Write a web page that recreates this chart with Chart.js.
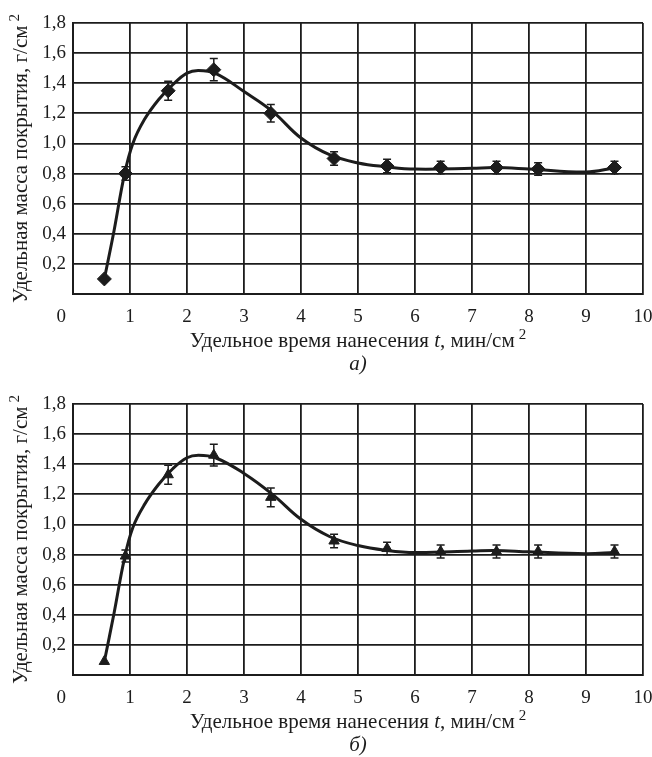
<!DOCTYPE html>
<html>
<head>
<meta charset="utf-8">
<script src="https://cdn.jsdelivr.net/npm/chart.js@4.4.1/dist/chart.umd.min.js"></script>
<style>
  html, body { margin: 0; padding: 0; background: #fff; overflow: hidden; }
  .panel { position: absolute; left: 0; width: 652px; height: 381px; }
</style>
</head>
<body>
<div class="panel" style="top:0"><canvas id="chart_a" width="652" height="381"></canvas></div>
<div class="panel" style="top:381px"><canvas id="chart_b" width="652" height="381"></canvas></div>
<script>
// measured points (same times in both panels)
const time_points = [0.55, 0.92, 1.67, 2.47, 3.47, 4.58, 5.51, 6.45, 7.43, 8.16, 9.50];

const mass_a = [0.10, 0.80, 1.35, 1.49, 1.20, 0.90, 0.85, 0.84, 0.84, 0.83, 0.84];
const error_a = [0, 0.045, 0.063, 0.074, 0.058, 0.045, 0.045, 0.042, 0.042, 0.042, 0.042];

const mass_b = [0.09, 0.79, 1.33, 1.46, 1.18, 0.89, 0.84, 0.82, 0.82, 0.82, 0.82];
const error_b = [0, 0.04, 0.063, 0.072, 0.062, 0.045, 0.042, 0.043, 0.043, 0.043, 0.043];

// fitted curves
const curve_time = [0.55, 0.72, 0.90, 1.05, 1.25, 1.5, 1.75, 2.0, 2.2, 2.5, 3.0, 3.5, 4.0, 4.5, 5.0, 5.5, 6.0, 7.0, 7.4, 8.0, 9.0, 9.5];
const curve_a = [0.10, 0.42, 0.79, 1.00, 1.157, 1.29, 1.39, 1.467, 1.485, 1.465, 1.345, 1.213, 1.036, 0.925, 0.87, 0.845, 0.83, 0.835, 0.84, 0.83, 0.81, 0.837];
const curve_b = [0.09, 0.41, 0.77, 0.98, 1.13, 1.265, 1.37, 1.443, 1.46, 1.443, 1.339, 1.2, 1.034, 0.92, 0.86, 0.828, 0.813, 0.823, 0.827, 0.818, 0.806, 0.813];

const x_tick_labels = ["0\u00a0\u00a0\u00a0\u00a0\u00a0", "1", "2", "3", "4", "5", "6", "7", "8", "9", "10"];
const y_tick_labels = ["", "0,2", "0,4", "0,6", "0,8", "1,0", "1,2", "1,4", "1,6", "1,8"];

const y_title_parts = ["Удельная масса покрытия, г/см", "2"];
const x_title_parts = ["Удельное время нанесения ", "t", ", мин/см", "2"];

const serif = "'Liberation Serif', 'DejaVu Serif', serif";
const ink = "#1c1c1c";

const errorBars =
{
    id: "errorBars",
    beforeDatasetsDraw(chart, args, opts)
    {
        const ctx = chart.ctx;
        const x = chart.scales.x;
        const y = chart.scales.y;
        ctx.save();
        ctx.strokeStyle = ink;
        ctx.lineWidth = 1.5;
        opts.errors.forEach((e, i) =>
        {
            if (!e) return;
            const px = x.getPixelForValue(time_points[i]);
            const top = y.getPixelForValue(opts.values[i] + e);
            const bottom = y.getPixelForValue(opts.values[i] - e);
            ctx.beginPath();
            ctx.moveTo(px, top); ctx.lineTo(px, bottom);
            ctx.moveTo(px - 4, top); ctx.lineTo(px + 4, top);
            ctx.moveTo(px - 4, bottom); ctx.lineTo(px + 4, bottom);
            ctx.stroke();
        });
        ctx.restore();
    }
};

// write a row of text pieces centred on 0,0 (normal / italic / superscript)
function drawPieces(ctx, parts, fonts, lifts, gaps)
{
    const widths = parts.map((p, i) => { ctx.font = fonts[i]; return ctx.measureText(p).width + gaps[i]; });
    let px = -widths.reduce((a, b) => a + b, 0) / 2;
    parts.forEach((p, i) =>
    {
        ctx.font = fonts[i];
        ctx.fillText(p, px + gaps[i], -lifts[i]);
        px += widths[i];
    });
}

const axisTitles =
{
    id: "axisTitles",
    afterDraw(chart, args, opts)
    {
        const ctx = chart.ctx;
        const area = chart.chartArea;
        const cx = (area.left + area.right) / 2;
        const cy = (area.top + area.bottom) / 2;
        const normal = "21px " + serif;
        const italic = "italic 21px " + serif;
        const small = "15px " + serif;
        ctx.save();
        ctx.fillStyle = ink;
        ctx.textAlign = "left";
        ctx.textBaseline = "alphabetic";

        ctx.save();
        ctx.translate(cx, area.bottom + 53);
        drawPieces(ctx, x_title_parts, [normal, italic, normal, small], [0, 0, 0, 8], [0, 0, 0, 4]);
        ctx.restore();

        ctx.save();
        ctx.translate(27, cy);
        ctx.rotate(-Math.PI / 2);
        drawPieces(ctx, y_title_parts, [normal, small], [0, 8], [0, 4]);
        ctx.restore();

        ctx.font = italic;
        ctx.textAlign = "center";
        ctx.fillText(opts.caption, cx, area.bottom + 76);
        ctx.restore();
    }
};

function makeChart(id, mass, errors, curve, marker, radius, caption)
{
    return new Chart(id,
    {
        type: "scatter",
        data:
        {
            datasets:
            [
                {
                    data: curve_time.map((t, i) => ({ x: t, y: curve[i] })),
                    showLine: true,
                    tension: 0.4,
                    borderColor: ink,
                    borderWidth: 3,
                    pointRadius: 0
                },
                {
                    data: time_points.map((t, i) => ({ x: t, y: mass[i] })),
                    showLine: false,
                    pointStyle: marker,
                    pointRadius: radius,
                    backgroundColor: ink,
                    borderColor: ink,
                    borderWidth: 1
                }
            ]
        },
        options:
        {
            responsive: false,
            animation: false,
            layout: { padding: { top: 23, right: 9, left: 0, bottom: 0 } },
            plugins:
            {
                legend: { display: false },
                tooltip: { enabled: false },
                errorBars: { values: mass, errors: errors },
                axisTitles: { caption: caption }
            },
            scales:
            {
                x:
                {
                    type: "linear",
                    min: 0,
                    max: 10,
                    afterFit: (s) => { s.height = 87; s.paddingLeft = 0; s.paddingRight = 0; },
                    ticks:
                    {
                        stepSize: 1,
                        padding: 12,
                        color: ink,
                        font: { family: serif, size: 19 },
                        maxRotation: 0,
                        callback: (v) => x_tick_labels[Math.round(v)]
                    },
                    grid: { color: ink, lineWidth: 1.8, drawTicks: false },
                    border: { color: ink, width: 2 }
                },
                y:
                {
                    min: 0,
                    max: 1.8,
                    afterFit: (s) => { s.width = 73; s.paddingTop = 0; s.paddingBottom = 0; },
                    ticks:
                    {
                        stepSize: 0.2,
                        padding: 7,
                        color: ink,
                        font: { family: serif, size: 19 },
                        callback: (v) => y_tick_labels[Math.round(v * 5)]
                    },
                    grid: { color: ink, lineWidth: 1.8, drawTicks: false },
                    border: { color: ink, width: 2 }
                }
            }
        },
        plugins: [errorBars, axisTitles]
    });
}

makeChart("chart_a", mass_a, error_a, curve_a, "rectRot", 7, "а)");
makeChart("chart_b", mass_b, error_b, curve_b, "triangle", 6, "б)");
</script>
</body>
</html>
